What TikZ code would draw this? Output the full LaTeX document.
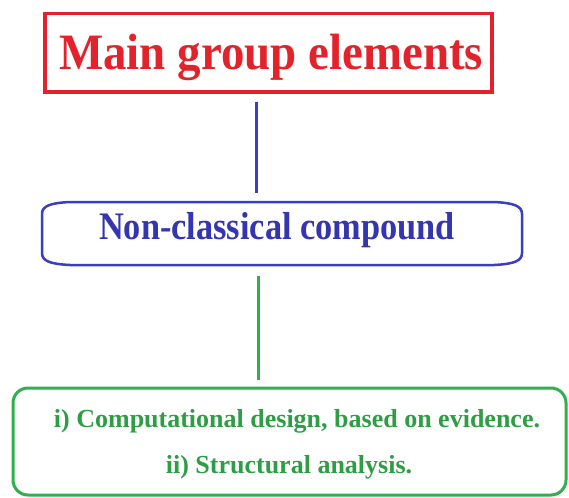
\documentclass[tikz,border=0pt]{standalone}
\usepackage{fontspec}
\setmainfont{Liberation Serif}
\definecolor{myred}{HTML}{E3232B}
\definecolor{myblue}{HTML}{3A3EC0}
\definecolor{mybluetext}{HTML}{3535B0}
\definecolor{mygreen}{HTML}{2FB04E}
\definecolor{mygreentext}{HTML}{2E9E45}
\begin{document}
\begin{tikzpicture}[x=1pt,y=-1pt,
  boxshape/.style={rectangle, inner sep=0pt, outer sep=0pt},
  redbox/.style={boxshape, draw=myred, line width=3.5pt, minimum width=447pt, minimum height=78.5pt},
  bluebox/.style={boxshape, minimum width=480pt, minimum height=61pt},
  blueborder/.style={draw=myblue, line width=2.5pt},
  greenbox/.style={boxshape, draw=mygreen, line width=3pt, rounded corners=15pt, minimum width=553pt, minimum height=107pt},
  redtext/.style={anchor=base, inner sep=0pt, text=myred, font=\bfseries\fontsize{51}{51}\selectfont},
  bluetext/.style={anchor=base, inner sep=0pt, text=mybluetext, font=\bfseries\fontsize{39}{39}\selectfont},
  greentext/.style={anchor=base, inner sep=0pt, text=mygreentext, font=\bfseries\fontsize{26}{26}\selectfont},
  bluecon/.style={draw=myblue, line width=3pt},
  greencon/.style={draw=mygreen, line width=3pt}]
\useasboundingbox (0,0) rectangle (569,497);
\fill[white] (0,0) rectangle (569,497);
% boxes
\node[redbox] (main) at (268.5,52.75) {};
\node[bluebox] (ncc) at (282,233.5) {};
\node[greenbox] (cds) at (289.5,441.5) {};
% blue box border
\draw[blueborder] ([xshift=28pt, yshift=1pt]ncc.north west) -- ([xshift=-28pt, yshift=1pt]ncc.north east)
  .. controls ([xshift=-8pt]ncc.north east) and ([yshift=-3pt]ncc.north east) .. ([yshift=-11pt]ncc.north east)
  -- ([yshift=11pt]ncc.south east)
  .. controls ([yshift=3pt]ncc.south east) and ([xshift=-8pt]ncc.south east) .. ([xshift=-28pt, yshift=-1pt]ncc.south east)
  -- ([xshift=28pt, yshift=-1pt]ncc.south west)
  .. controls ([xshift=8pt]ncc.south west) and ([yshift=3pt]ncc.south west) .. ([yshift=11pt]ncc.south west)
  -- ([yshift=-11pt]ncc.north west)
  .. controls ([yshift=-3pt]ncc.north west) and ([xshift=8pt]ncc.north west) .. cycle;
% texts
\node[redtext] (maintext) at (271,70) {\scalebox{0.92}[1]{Main group elements}};
\node[bluetext] (ncctext) at (277,239) {\scalebox{0.88}[1]{Non-classical compound}};
\node[greentext] (line1) at (297,427) {i) Computational design, based on evidence.};
\node[greentext] (line2) at (289,473) {ii) Structural analysis.};
% connectors
\coordinate (conA) at (256,0);
\coordinate (conB) at (258.5,0);
\draw[bluecon, shorten <=10pt, shorten >=10pt] (main.south -| conA) -- (ncc.north -| conA);
\draw[greencon, shorten <=12pt, shorten >=8pt] (ncc.south -| conB) -- (cds.north -| conB);
\end{tikzpicture}
\end{document}
